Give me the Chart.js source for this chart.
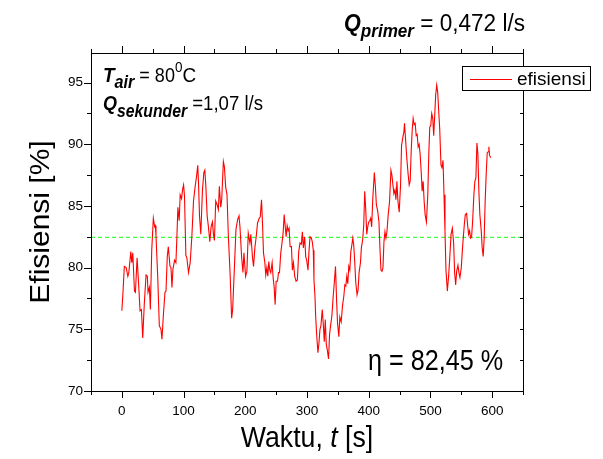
<!DOCTYPE html>
<html>
<head>
<meta charset="utf-8">
<script src="https://cdn.jsdelivr.net/npm/chart.js@4.4.1/dist/chart.umd.min.js"></script>
<style>
  html, body { margin: 0; padding: 0; background: #fff; }
</style>
</head>
<body>
<canvas id="chart" width="603" height="459"></canvas>
<script>
// waktu [s] dan efisiensi [%]
var waktu = [
  0, 1.6, 4, 7, 9.7, 11.3, 14.5, 16.1, 17.7, 20.4, 22, 24.7, 26.8, 29.5, 31.7, 33.8, 36.5, 39.2, 41.3, 42.4,
  44.6, 46.2, 48.4, 51, 53.2, 54.3, 55.3, 58, 60.7, 63.4, 65, 67.2, 69.9, 71.5, 73.6, 75.3, 78, 79.6, 81.2, 82.8,
  85.5, 87.6, 89.2, 90.8, 92.9, 94.5, 96.7, 98.3, 100, 101.5, 103.7, 105.3, 108, 110.7, 113.4, 116.1, 118.8, 121, 123, 124.2,
  125.8, 127.9, 130.6, 132.8, 134.4, 136.1, 138.2, 140.3, 142.5, 144.6, 146.8, 148.4, 150, 152.1, 154.3, 156.4, 158, 160.2, 161.8, 164.5,
  166.1, 168.3, 170.4, 172.6, 175.3, 177.9, 179.5, 182.2, 184.9, 187.6, 189.8, 191.4, 194, 196.2, 197.8, 200.5, 202.6, 204.8, 207.5, 209,
  211.7, 213.4, 215.5, 217.7, 219.8, 222.5, 224.2, 226.3, 227.9, 229.5, 231.7, 233.2, 234.9, 236.5, 238.1, 239.7, 241.3, 243.5, 245.1, 246.8,
  248.4, 250, 252.2, 253.8, 255.4, 257.5, 259.7, 261.3, 263, 264.6, 266.2, 267.8, 269.4, 271, 272.6, 274.8, 276.3, 278, 280.1, 282.3,
  284.4, 286.6, 288.7, 290.9, 292.5, 294.1, 296.2, 297.9, 299.5, 301.6, 303.2, 304.9, 307, 308.6, 310.2, 311.3, 312.9, 314, 315.5, 317.7,
  319.4, 321, 322.6, 324.7, 326.3, 328, 329.6, 331.2, 332.7, 334.9, 336.6, 338.2, 340.3, 342.5, 344.1, 346.2, 347.9, 349.5, 351.6, 353.2,
  355.4, 357.5, 359.7, 361.3, 362.9, 364.5, 366.1, 367.7, 369.4, 371, 372.6, 374.2, 375.8, 377.4, 379, 381.1, 382.8, 384.4, 386.6, 388.1,
  390.3, 392, 393.5, 395.2, 396.8, 398.4, 400, 401.6, 403.2, 404.8, 406.5, 409.1, 410.8, 412.4, 414.5, 416.6, 418.2, 419.8, 421.5, 423.1,
  424.7, 426.3, 427.9, 429.5, 431.6, 433.8, 436, 437.6, 439.2, 440.8, 442.5, 444.1, 445.7, 447.3, 449.4, 451.6, 453.2, 455.4, 457, 458,
  459.7, 461.8, 464, 465.6, 467.2, 468.8, 470.4, 472, 473.7, 475.3, 476.9, 478.5, 480.1, 481.7, 483.3, 485, 486.6, 488.2, 489.8, 491.4,
  493.5, 495.7, 497.3, 498.9, 500.5, 502.1, 503.8, 505.3, 506.9, 508.5, 510.2, 511.8, 513.4, 515, 517.1, 518.7, 520.4, 522, 523.6, 525.2,
  527.4, 529.6, 531.2, 533.4, 535.5, 537.6, 539.2, 540.9, 542.5, 544.6, 546.2, 547.8, 550, 551.6, 553.2, 554.9, 556.5, 558.6, 560.2, 561.8,
  563.5, 565.1, 566.7, 568.3, 570.4, 572, 573.7, 575.3, 576.9, 578.5, 580.1, 582.3, 583.9, 585.5, 587.1, 588.7, 590.3, 592, 593.6, 594.7,
  595.8, 597.8
];
var efisiensi = [
  76.5, 77.8, 80.1, 80.0, 79.3, 79.6, 81.3, 80.4, 81.2, 78.1, 78.0, 80.8, 79.0, 76.5, 76.6, 74.3, 77.2, 79.4, 79.3, 78.0,
  78.4, 76.6, 81.4, 84.0, 83.3, 83.4, 82.6, 79.4, 75.3, 75.0, 74.2, 76.1, 78.0, 78.1, 80.9, 81.7, 80.1, 80.0, 78.4, 79.9,
  80.6, 80.4, 82.5, 84.9, 83.8, 85.9, 85.6, 86.3, 86.7, 85.8, 81.0, 80.8, 79.6, 80.4, 82.5, 85.4, 86.6, 87.4, 88.3, 86.9,
  84.2, 82.7, 86.3, 87.7, 87.9, 86.6, 84.2, 83.3, 82.1, 83.3, 83.7, 82.7, 82.2, 85.4, 85.1, 84.7, 86.6, 84.9, 85.5, 88.6,
  88.2, 86.5, 85.9, 82.5, 79.6, 75.9, 76.6, 79.8, 83.1, 83.9, 84.2, 83.3, 80.9, 79.6, 81.2, 79.3, 79.7, 82.8, 82.0, 82.7,
  80.8, 80.1, 81.6, 82.5, 83.6, 84.0, 84.1, 85.5, 83.6, 81.2, 80.4, 79.4, 80.0, 79.3, 80.5, 79.8, 79.6, 80.4, 79.2, 78.4,
  77.0, 78.9, 78.9, 79.6, 79.6, 81.2, 82.1, 82.8, 84.3, 83.4, 82.5, 83.4, 83.0, 83.2, 81.7, 81.7, 79.8, 80.4, 79.3, 78.9,
  79.0, 81.3, 82.0, 81.9, 82.9, 81.6, 82.5, 80.9, 80.6, 79.8, 81.3, 82.5, 82.4, 82.1, 81.4, 79.0, 77.7, 76.1, 74.7, 73.1,
  73.9, 75.0, 75.3, 76.6, 75.5, 74.0, 75.8, 73.8, 73.4, 72.6, 74.6, 75.3, 76.1, 77.7, 78.7, 80.1, 77.4, 75.5, 74.4, 76.0,
  75.6, 76.9, 77.7, 78.6, 78.5, 79.3, 78.7, 80.1, 79.8, 81.3, 81.8, 82.4, 81.8, 80.4, 78.8, 77.8, 78.2, 79.6, 80.4, 81.6,
  82.3, 83.5, 86.2, 84.7, 82.7, 83.3, 83.7, 83.8, 84.0, 83.3, 85.5, 87.7, 86.6, 85.1, 84.6, 83.7, 81.6, 79.8, 79.7, 80.0,
  82.1, 82.9, 82.4, 82.9, 84.3, 85.4, 87.9, 87.5, 86.7, 86.0, 86.3, 85.5, 87.0, 85.4, 84.5, 86.7, 89.9, 90.6, 91.0, 91.7,
  90.4, 88.8, 87.5, 86.7, 87.0, 89.4, 91.1, 92.1, 91.6, 91.7, 90.7, 90.8, 89.8, 90.0, 89.2, 87.8, 86.2, 87.0, 85.4, 84.3,
  83.7, 85.9, 89.1, 91.4, 91.5, 92.5, 92.1, 90.7, 92.3, 94.0, 94.8, 94.2, 92.7, 91.3, 88.3, 88.1, 88.7, 85.9, 82.9, 79.8,
  78.1, 79.4, 80.7, 82.7, 83.2, 82.0, 79.6, 78.6, 79.7, 80.2, 79.6, 79.2, 80.0, 81.3, 82.4, 83.5, 84.3, 84.4, 83.5, 82.7,
  83.0, 82.4, 82.5, 83.7, 85.9, 87.0, 87.3, 90.1, 89.2, 86.2, 84.3, 83.0, 81.6, 80.9, 82.4, 85.4, 87.5, 89.3, 89.4, 89.8,
  89.1, 88.9
];
var rataRata = 82.45;
var batasX = [-50, 650];
var xTicks = [0, 100, 200, 300, 400, 500, 600];
var yTicks = [70, 75, 80, 85, 90, 95];

var FONT = '"Liberation Sans", Arial, sans-serif';

// tulis teks bersambung (subscript / superscript), sx = skala lebar
function tulis(ctx, x, y, parts) {
  parts.forEach(function(p) {
    var sx = p.sx || 1;
    ctx.font = (p.s || '') + ' ' + p.f + 'px ' + FONT;
    ctx.save();
    ctx.translate(x, y + (p.dy || 0));
    ctx.scale(sx, 1);
    ctx.fillText(p.t, 0, 0);
    ctx.restore();
    x += ctx.measureText(p.t).width * sx;
  });
}

var bingkai = {
  id: 'bingkai',
  afterDraw: function(chart) {
    var ctx = chart.ctx;
    var a = chart.chartArea;
    var xs = chart.scales.x, ys = chart.scales.y;
    ctx.save();
    ctx.strokeStyle = '#000';
    ctx.lineWidth = 1;
    ctx.strokeRect(a.left + 0.5, a.top + 0.5, a.right - a.left, a.bottom - a.top);
    ctx.beginPath();
    for (var v = -50; v <= 650; v += 50) {
      var px = Math.round(xs.getPixelForValue(v)) + 0.5;
      var len = v % 100 === 0 ? 7 : 4;
      ctx.moveTo(px, a.bottom); ctx.lineTo(px, a.bottom + len);
      ctx.moveTo(px, a.top); ctx.lineTo(px, a.top - len);
    }
    for (var w = 70; w <= 97.4; w += 2.5) {
      var py = Math.round(ys.getPixelForValue(w)) + 0.5;
      var len2 = w % 5 === 0 ? 7 : 4;
      ctx.moveTo(a.left, py); ctx.lineTo(a.left - len2, py);
      ctx.moveTo(a.right, py); ctx.lineTo(a.right - 3, py);
    }
    ctx.stroke();

    ctx.fillStyle = '#000';
    ctx.textBaseline = 'alphabetic';
    ctx.textAlign = 'left';

    // keterangan
    tulis(ctx, 344, 31, [
      { t: 'Q', f: 24, s: 'italic bold', sx: 0.9 },
      { t: 'primer', f: 19, s: 'italic bold', dy: 6, sx: 0.9 },
      { t: ' = 0,472 l/s', f: 23, sx: 0.98 }
    ]);
    tulis(ctx, 103, 82, [
      { t: 'T', f: 21, s: 'italic bold', sx: 0.9 },
      { t: 'air', f: 18, s: 'italic bold', dy: 6, sx: 0.9 },
      { t: ' = 80', f: 20, sx: 0.9 },
      { t: '0', f: 15, dy: -10, sx: 0.9 },
      { t: 'C', f: 21, sx: 0.9 }
    ]);
    tulis(ctx, 103, 110, [
      { t: 'Q', f: 20, s: 'italic bold', sx: 0.9 },
      { t: 'sekunder', f: 17.5, s: 'italic bold', dy: 7, sx: 0.9 },
      { t: ' =1,07 l/s', f: 20, sx: 0.93 }
    ]);
    tulis(ctx, 368, 370, [
      { t: '\u03b7 = 82,45 %', f: 30, sx: 0.84 }
    ]);

    // judul sumbu
    var xt = [
      { t: 'Waktu, ', f: 29, sx: 0.92 },
      { t: 't', f: 29, s: 'italic', sx: 0.92 },
      { t: ' [s]', f: 29, sx: 0.92 }
    ];
    var lebar = 0;
    xt.forEach(function(p) { ctx.font = (p.s || '') + ' ' + p.f + 'px ' + FONT; lebar += ctx.measureText(p.t).width * p.sx; });
    tulis(ctx, (a.left + a.right) / 2 - lebar / 2, 447, xt);

    ctx.save();
    ctx.translate(49, (a.top + a.bottom) / 2);
    ctx.rotate(-Math.PI / 2);
    ctx.scale(1, 0.92);
    ctx.textAlign = 'center';
    ctx.font = '30px ' + FONT;
    ctx.fillText('Efisiensi [%]', 0, 0);
    ctx.restore();

    // legenda
    var ds = chart.data.datasets[0];
    ctx.fillStyle = '#fff';
    ctx.fillRect(462.5, 66.5, 128, 24);
    ctx.strokeStyle = '#000';
    ctx.strokeRect(462.5, 66.5, 128, 24);
    ctx.strokeStyle = ds.borderColor;
    ctx.beginPath();
    ctx.moveTo(470, 79.5); ctx.lineTo(512, 79.5);
    ctx.stroke();
    ctx.fillStyle = '#000';
    ctx.textAlign = 'left';
    ctx.font = '19px ' + FONT;
    ctx.fillText(ds.label, 517, 85);
    ctx.restore();
  }
};

var ctx = document.getElementById('chart').getContext('2d');
new Chart(ctx, {
  type: 'line',
  data: {
    datasets: [{
      label: 'efisiensi',
      data: waktu.map(function(t, i) { return { x: t, y: efisiensi[i] }; }),
      borderColor: '#ff0000',
      borderWidth: 1.1,
      pointRadius: 0,
      tension: 0
    }, {
      label: 'rata-rata',
      data: batasX.map(function(t) { return { x: t, y: rataRata }; }),
      borderColor: '#3cff3c',
      borderWidth: 1.3,
      borderDash: [4, 3],
      pointRadius: 0
    }]
  },
  options: {
    responsive: false,
    animation: false,
    layout: { padding: { top: 53, right: 80, left: 0, bottom: 0 } },
    plugins: { legend: { display: false }, tooltip: { enabled: false } },
    scales: {
      x: {
        type: 'linear',
        min: -50,
        max: 650,
        afterFit: function(s) { s.height = 68; },
        afterBuildTicks: function(s) { s.ticks = xTicks.map(function(v) { return { value: v }; }); },
        grid: { display: false, drawTicks: false },
        border: { display: false },
        ticks: { color: '#000', padding: 12, maxRotation: 0, font: { family: FONT, size: 13.5 } }
      },
      y: {
        min: 70,
        max: 97.4,
        afterFit: function(s) { s.width = 91; },
        afterBuildTicks: function(s) { s.ticks = yTicks.map(function(v) { return { value: v }; }); },
        grid: { display: false, drawTicks: false },
        border: { display: false },
        ticks: { color: '#000', padding: 8, font: { family: FONT, size: 13.5 } }
      }
    }
  },
  plugins: [bingkai]
});
</script>
</body>
</html>
